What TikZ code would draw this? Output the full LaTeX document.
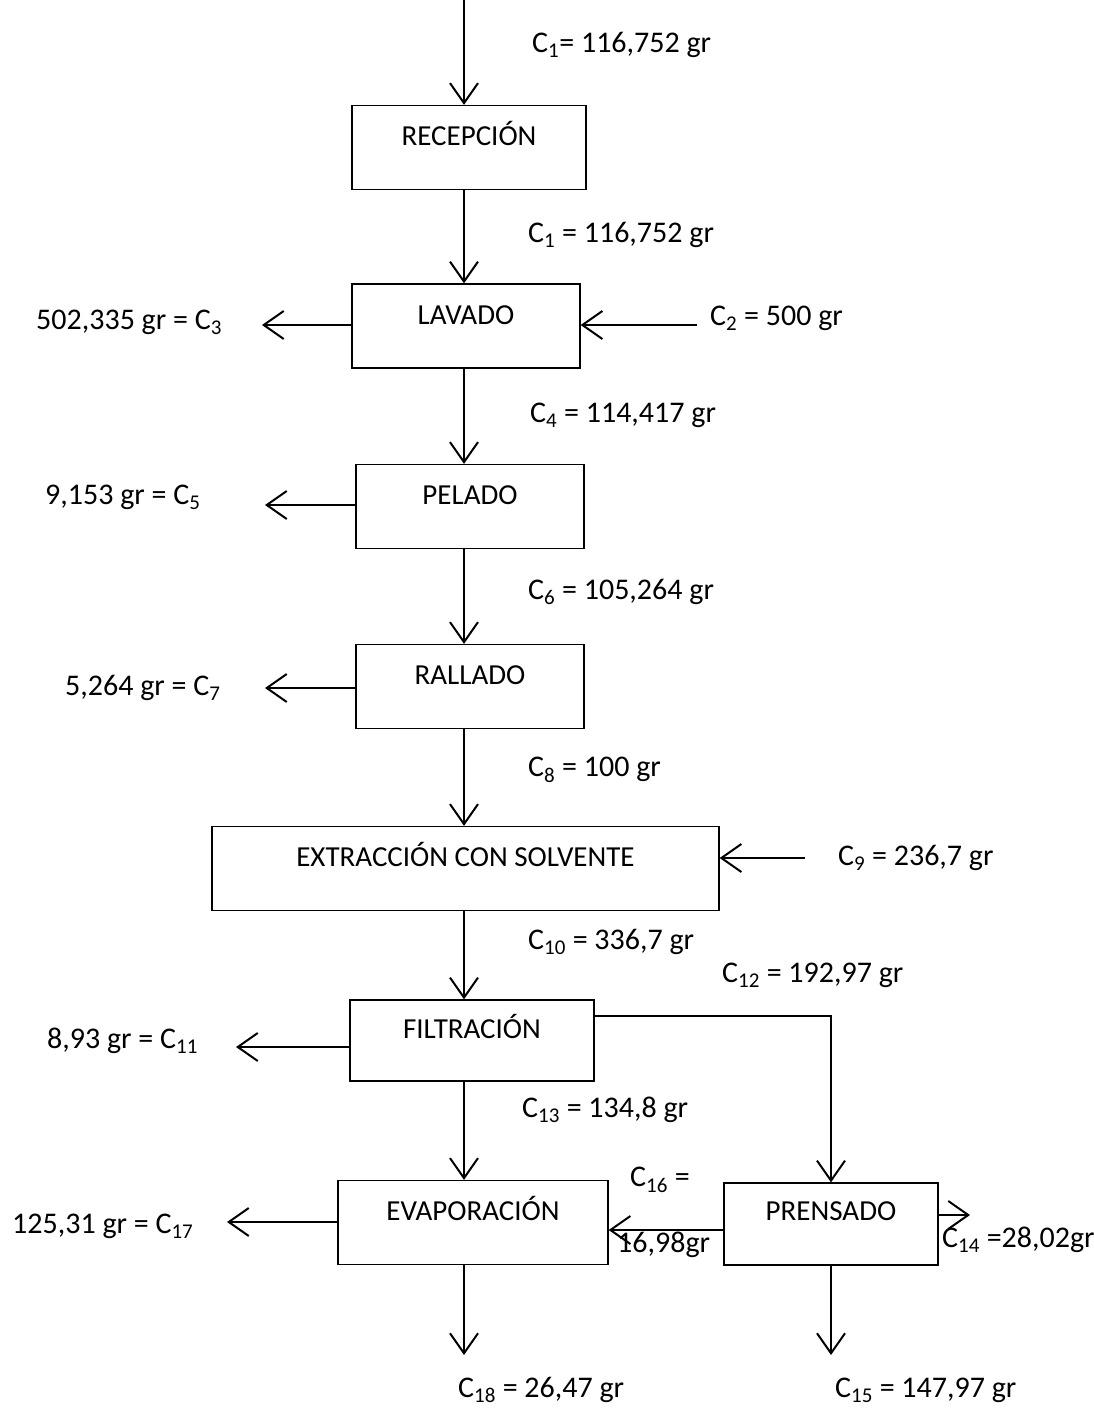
\documentclass[tikz,border=0pt]{standalone}
\usepackage{fontspec}
\setmainfont{Carlito}
\usepackage{tikz}
\usetikzlibrary{arrows.meta}

\newcommand{\Cn}[1]{C\textsubscript{#1}}

\begin{document}
\begin{tikzpicture}[x=1pt,y=-1pt,
  box/.style={draw,line width=1.3pt,minimum height=84pt,inner sep=0pt,
              text height=18pt,text depth=22pt,font=\fontsize{29}{33}\selectfont},
  lbl/.style={anchor=west,inner sep=0pt,font=\fontsize{30}{34}\selectfont},
  arr/.style={-{Straight Barb[length=20pt,width=28pt,line width=2pt]},line width=2pt}]

  \useasboundingbox (0,0) rectangle (1094,1410);

  % process boxes
  \node[box,minimum width=234pt] (rec) at (469,147.5) {RECEPCIÓN};
  \node[box,minimum width=228pt] (lav) at (466,326)   {LAVADO};
  \node[box,minimum width=228pt] (pel) at (470,506.5) {PELADO};
  \node[box,minimum width=228pt] (ral) at (470,686.5) {RALLADO};
  \node[box,minimum width=507pt] (ext) at (465.5,868.5) {EXTRACCIÓN CON SOLVENTE};
  \node[box,minimum width=244pt,minimum height=81pt] (fil) at (472,1040.5) {FILTRACIÓN};
  \node[box,minimum width=270pt] (eva) at (473,1222.5) {EVAPORACIÓN};
  \node[box,minimum width=214pt,minimum height=82pt,text depth=26pt] (pre) at (831,1224) {PRENSADO};

  % free ends
  \coordinate (sp)  at (464,0);
  \coordinate (o3)  at (262,325);
  \coordinate (i2)  at (697,325);
  \coordinate (o5)  at (265,505);
  \coordinate (o7)  at (265,688);
  \coordinate (i9)  at (805,858);
  \coordinate (o11) at (236,1047);
  \coordinate (j12) at (831,1016);
  \coordinate (o17) at (227,1222);
  \coordinate (c16) at (660,1230);
  \coordinate (o14) at (970,1215);
  \coordinate (o18) at (464,1355);
  \coordinate (o15) at (831,1355);

  % main line
  \draw[arr] (sp) -- (sp |- rec.north);
  \draw[arr] (sp |- rec.south) -- (sp |- lav.north);
  \draw[arr] (sp |- lav.south) -- (sp |- pel.north);
  \draw[arr] (sp |- pel.south) -- (sp |- ral.north);
  \draw[arr] (sp |- ral.south) -- (sp |- ext.north);
  \draw[arr] (sp |- ext.south) -- (sp |- fil.north);
  \draw[arr] (sp |- fil.south) -- (sp |- eva.north);
  \draw[arr] (sp |- eva.south) -- (o18);

  % side streams
  \draw[arr] (lav.west |- o3) -- (o3);
  \draw[arr] (i2) -- (lav.east |- i2);
  \draw[arr] (pel.west |- o5) -- (o5);
  \draw[arr] (ral.west |- o7) -- (o7);
  \draw[arr] (i9) -- (ext.east |- i9);
  \draw[arr] (fil.west |- o11) -- (o11);
  \draw[arr] (fil.east |- j12) -- (j12) -- (pre.north);
  \draw[arr] (eva.west |- o17) -- (o17);
  \draw[arr] (pre.west |- c16) -- (eva.east |- c16);
  \draw[arr] (pre.east |- o14) -- (o14);
  \draw[arr] (pre.south) -- (o15);

  % stream labels
  \node[lbl] (t1)  at (532,45)   {\Cn{1}= 116,752 gr};
  \node[lbl] (t1b) at (528,235)  {\Cn{1} = 116,752 gr};
  \node[lbl] (t3)  at (36,322)   {502,335 gr = \Cn{3}};
  \node[lbl] (t2)  at (710,318)  {\Cn{2} = 500 gr};
  \node[lbl] (t4)  at (530,415)  {\Cn{4} = 114,417 gr};
  \node[lbl] (t5)  at (45,497)   {9,153 gr = \Cn{5}};
  \node[lbl] (t6)  at (528,592)  {\Cn{6} = 105,264 gr};
  \node[lbl] (t7)  at (65,688)   {5,264 gr = \Cn{7}};
  \node[lbl] (t8)  at (528,770)  {\Cn{8} = 100 gr};
  \node[lbl] (t9)  at (838,858)  {\Cn{9} = 236,7 gr};
  \node[lbl] (t10) at (528,942)  {\Cn{10} = 336,7 gr};
  \node[lbl] (t11) at (47,1041)  {8,93 gr = \Cn{11}};
  \node[lbl] (t12) at (722,975)  {\Cn{12} = 192,97 gr};
  \node[lbl] (t13) at (522,1110) {\Cn{13} = 134,8 gr};
  \node[lbl] (t17) at (12,1226)  {125,31 gr = \Cn{17}};
  \node[lbl] (t16) at (630,1180) {\Cn{16} =};
  \node[lbl] (t16b) at (617,1245) {16,98gr};
  \node[lbl] (t14) at (942,1240) {\Cn{14} =28,02gr};
  \node[lbl] (t18) at (458,1390) {\Cn{18} = 26,47 gr};
  \node[lbl] (t15) at (835,1390) {\Cn{15} = 147,97 gr};
\end{tikzpicture}
\end{document}
